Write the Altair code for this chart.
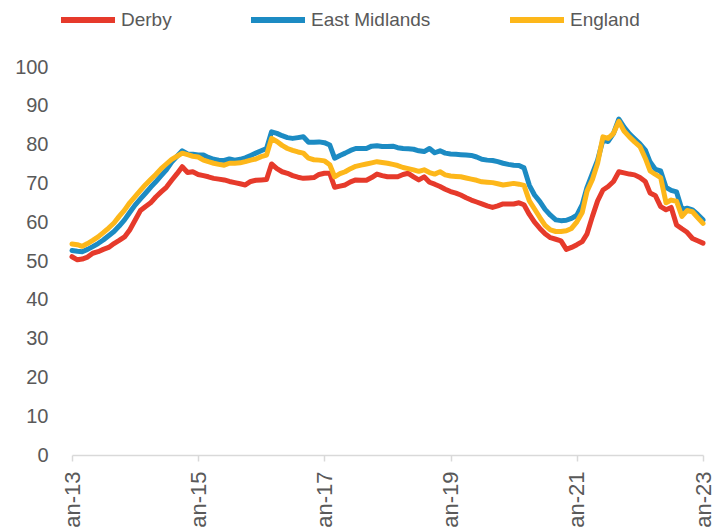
import altair as alt
import pandas as pd

derby = [51.1, 50.3, 50.5, 51.0, 52.0, 52.4, 53.0, 53.5, 54.5, 55.3, 56.2, 58.0, 60.5, 63.0, 64.0, 65.0,
         66.5, 67.8, 69.0, 70.8, 72.5, 74.3, 72.8, 73.0, 72.3, 72.0, 71.7, 71.3, 71.1, 70.9, 70.5, 70.2,
         69.9, 69.6, 70.5, 70.8, 70.9, 71.0, 75.0, 73.8, 73.0, 72.6, 72.0, 71.6, 71.3, 71.4, 71.5, 72.3,
         72.6, 72.6, 69.0, 69.3, 69.6, 70.4, 70.9, 70.8, 70.8, 71.5, 72.4, 72.0, 71.7, 71.7, 71.7, 72.3,
         72.6, 71.7, 70.9, 71.7, 70.3, 69.8, 69.2, 68.5, 67.9, 67.5, 67.0, 66.3, 65.7, 65.2, 64.7, 64.2,
         63.8, 64.2, 64.7, 64.7, 64.7, 65.0, 64.5, 62.0, 60.0, 58.4, 57.0, 56.0, 55.6, 55.2, 53.0, 53.5,
         54.2, 55.0, 57.0, 61.5, 65.5, 68.3, 69.2, 70.5, 73.0, 72.7, 72.4, 72.2, 71.5, 70.5, 67.5, 66.8,
         64.0, 63.2, 63.8, 59.3, 58.3, 57.4, 55.8, 55.2, 54.6]

east_midlands = [52.7, 52.5, 52.4, 53.0, 53.7, 54.5, 55.4, 56.5, 57.6, 59.0, 60.6, 62.5, 64.4, 66.0, 67.4, 69.0,
                 70.4, 72.0, 73.5, 75.5, 77.0, 78.4, 77.6, 77.5, 77.3, 77.3, 76.7, 76.2, 76.0, 75.9, 76.3, 76.0,
                 76.2, 76.6, 77.2, 77.8, 78.4, 79.0, 83.3, 82.9, 82.3, 81.8, 81.6, 81.8, 82.0, 80.6, 80.6, 80.7,
                 80.5, 79.9, 76.5, 77.2, 77.8, 78.5, 79.0, 79.0, 79.0, 79.6, 79.7, 79.5, 79.5, 79.6, 79.2, 79.0,
                 78.9, 78.8, 78.4, 78.2, 79.0, 77.9, 78.4, 77.8, 77.6, 77.5, 77.4, 77.3, 77.2, 76.8, 76.2, 76.0,
                 75.9, 75.6, 75.2, 74.9, 74.7, 74.6, 74.0, 69.5, 67.0, 65.3, 63.3, 61.8, 60.6, 60.4, 60.5, 61.0,
                 61.8, 64.5, 69.0, 72.6, 76.0, 81.2, 80.8, 82.9, 86.6, 84.5, 82.8, 81.5, 80.2, 78.6, 75.5, 73.6,
                 73.2, 69.0, 68.2, 67.8, 63.3, 63.6, 63.2, 62.0, 60.6]

england = [54.4, 54.2, 53.8, 54.5, 55.3, 56.2, 57.3, 58.5, 59.8, 61.5, 63.1, 65.0, 66.6, 68.2, 69.6, 71.0,
           72.3, 73.8, 75.0, 76.2, 77.0, 77.8, 77.4, 77.0, 76.8, 76.0, 75.6, 75.2, 74.9, 74.7, 75.2, 75.2,
           75.3, 75.6, 76.0, 76.3, 76.9, 77.3, 81.6, 80.8, 79.8, 79.0, 78.5, 78.1, 77.8, 76.5, 76.1, 76.0,
           75.8, 74.8, 71.7, 72.5, 73.0, 73.8, 74.4, 74.7, 75.0, 75.3, 75.6, 75.4, 75.2, 74.9, 74.6, 74.1,
           73.8, 73.5, 73.1, 73.5, 72.8, 72.4, 73.0, 72.2, 71.9, 71.8, 71.7, 71.4, 71.1, 70.8, 70.4, 70.3,
           70.2, 69.9, 69.6, 69.8, 70.0, 69.8, 69.5, 65.5, 63.4, 61.2, 59.2, 58.0, 57.6, 57.6, 57.8, 58.4,
           60.1, 62.5, 68.0, 71.0, 75.2, 82.0, 81.6, 82.9, 86.0, 83.5, 82.0, 80.7, 79.5, 76.5, 73.2, 72.3,
           71.5, 65.0, 65.7, 65.4, 61.5, 63.0, 62.7, 61.2, 59.7]

series_names = ["Derby", "East Midlands", "England"]
series_colors = ["#E63A2B", "#1C8BC3", "#FDB71A"]
tick_years = [2013, 2015, 2017, 2019, 2021, 2023]
y_ticks = [0, 10, 20, 30, 40, 50, 60, 70, 80, 90, 100]

dates = pd.date_range("2013-01-01", periods=len(derby), freq="MS")
rows = []
for name, vals in zip(series_names, [derby, east_midlands, england]):
    for d, v in zip(dates, vals):
        rows.append({"date": d.strftime("%Y-%m-%d"), "value": v, "series": name})
df = pd.DataFrame(rows)

FONT = "Liberation Sans"
GRAY = "#595959"

chart = alt.Chart(df).mark_line(strokeWidth=5, strokeJoin="round", strokeCap="round").encode(
    x=alt.X("date:T",
            scale=alt.Scale(domain=[alt.DateTime(year=2013, month=1, date=1),
                                    alt.DateTime(year=2023, month=1, date=1)]),
            axis=alt.Axis(title=None,
                          values=[alt.DateTime(year=y, month=1, date=1) for y in tick_years],
                          format="%b-%y", labelAngle=-90, labelFontSize=22, labelColor=GRAY,
                          labelFont=FONT, domainColor="#D9D9D9", domainWidth=1.5,
                          tickColor="#D9D9D9", tickSize=6, tickWidth=1.5, labelPadding=10,
                          grid=False)),
    y=alt.Y("value:Q",
            scale=alt.Scale(domain=[0, 100], nice=False),
            axis=alt.Axis(title=None, values=y_ticks, domain=False, ticks=False, grid=False,
                          labelFontSize=20, labelColor=GRAY, labelFont=FONT, labelPadding=24)),
    color=alt.Color("series:N",
                    scale=alt.Scale(domain=series_names, range=series_colors),
                    legend=alt.Legend(title=None, orient="none", direction="horizontal",
                                      legendX=-14, legendY=-77,
                                      symbolType="stroke", symbolSize=2916, symbolStrokeWidth=6,
                                      labelFontSize=19, labelColor=GRAY, labelFont=FONT,
                                      columnPadding=67, labelOffset=3, padding=0)),
    order=alt.Order("date:T"),
).properties(
    width=631, height=388,
    autosize=alt.AutoSizeParams(type="none"),
    padding={"left": 64, "top": 59, "right": 13, "bottom": 73},
).configure_view(stroke=None)

chart.save("out.html", embed_options={"renderer": "svg", "actions": False})
